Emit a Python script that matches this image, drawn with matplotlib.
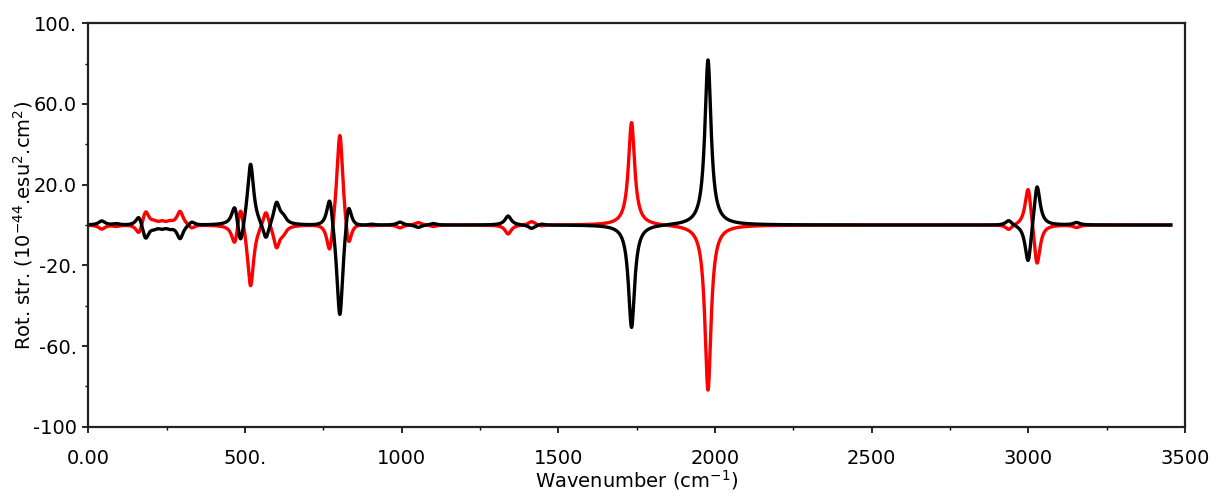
import numpy as np
import matplotlib
matplotlib.use("Agg")
import matplotlib.pyplot as plt
from matplotlib.ticker import FixedLocator

# --------------------
# Data (band centres in cm-1 and peak rotational strengths)
# --------------------
band_centres = [43, 90, 162, 183, 210, 235, 260, 293, 330,
                468, 486, 518, 567, 601, 622, 771, 803, 830, 904,
                995, 1053, 1101, 1340, 1415, 1447,
                1734, 1978, 2938, 3000, 3028, 3154]
band_heights = [2.0, 0.6, 5.5, -7.5, -1.2, -1.3, -1.2, -6.8, 2.0,
                11.0, -14.0, 31.5, -9.0, 11.0, 3.0, 17.0, -49.0, 15.0, 0.5,
                1.5, -1.3, 0.8, 4.5, -1.8, 0.6,
                -51.0, 82.0, 2.5, -21.0, 22.0, 1.2]
half_width = 12.0
wn_range = (0, 3455)

xtick_values = [0, 500, 1000, 1500, 2000, 2500, 3000, 3500]
xtick_labels = ["0.00", "500.", "1000", "1500", "2000", "2500", "3000", "3500"]
ytick_values = [-100, -60, -20, 20, 60, 100]
ytick_labels = ["-100", "-60.", "-20.", "20.0", "60.0", "100."]


def lorentz_spectrum(x, centres, heights, hw):
    y = np.zeros_like(x)
    for c, h in zip(centres, heights):
        y += h / (1.0 + ((x - c) / hw) ** 2)
    return y


def main():
    plt.rcParams["font.family"] = ["DejaVu Sans"]
    x = np.linspace(wn_range[0], wn_range[1], 6000)
    black = lorentz_spectrum(x, band_centres, band_heights, half_width)
    red = -black

    fig = plt.figure(figsize=(12.14, 4.93), dpi=100)
    ax = fig.add_axes([0.0727, 0.1345, 0.9033, 0.8182])

    ax.plot(x, red, color="#ff0000", lw=2.4)
    ax.plot(x, black, color="black", lw=2.4)

    ax.set_xlim(0, 3500)
    ax.set_ylim(-100, 100)

    ax.xaxis.set_major_locator(FixedLocator(xtick_values))
    ax.set_xticklabels(xtick_labels)
    ax.xaxis.set_minor_locator(FixedLocator(np.arange(250, 3500, 500)))
    ax.yaxis.set_major_locator(FixedLocator(ytick_values))
    ax.set_yticklabels(ytick_labels)
    ax.yaxis.set_minor_locator(FixedLocator([-80, -40, 0, 40, 80]))

    ax.tick_params(axis="both", which="major", labelsize=14, length=4,
                   width=1.2, direction="out")
    ax.tick_params(axis="x", which="major", pad=12)
    ax.tick_params(axis="y", which="major", pad=4)
    ax.tick_params(axis="both", which="minor", length=2, width=1.0,
                   direction="out")

    for sp in ax.spines.values():
        sp.set_linewidth(1.6)
        sp.set_color("#222222")

    ax.set_xlabel("Wavenumber (cm$^{\\mathregular{-1}}$)", fontsize=14, labelpad=0)
    ax.set_ylabel("Rot. str. (10$^{\\mathregular{-44}}$.esu$^{\\mathregular{2}}$.cm$^{\\mathregular{2}}$)",
                  fontsize=14)
    ax.yaxis.set_label_coords(-0.049, 0.5)

    fig.savefig("out.png", dpi=100)
    plt.close(fig)


if __name__ == "__main__":
    main()
